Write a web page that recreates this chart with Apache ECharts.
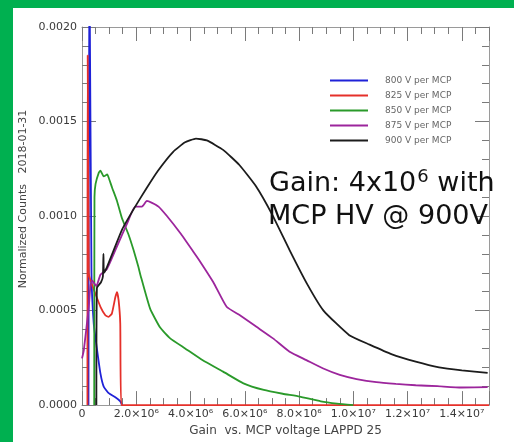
<!DOCTYPE html>
<html><head><meta charset="utf-8">
<script src="https://cdn.jsdelivr.net/npm/echarts@6/dist/echarts.min.js"></script>
<style>html,body{margin:0;padding:0;background:#00B050}#c{width:514px;height:442px}</style>
</head><body><div id="c"></div>
<script>
const seriesNames = ['800 V per MCP', '825 V per MCP', '850 V per MCP', '875 V per MCP', '900 V per MCP'];
const seriesColors = ['#1f22d8', '#e5302a', '#2a9a2a', '#9c259c', '#1c1c1c'];

const gain800   = [0.239e6, 0.268e6, 0.349e6, 0.433e6, 0.558e6, 0.679e6, 0.80e6, 0.983e6, 1.229e6, 1.413e6, 1.475e6];
const counts800 = [0, 0.0025, 0.0007, 0.00043, 0.00029, 0.000168, 0.000098, 0.000063, 0.000042, 0.00002, 0];

const gain825   = [0.20e6, 0.21e6, 0.25e6, 0.31e6, 0.49e6, 0.68e6, 0.86e6, 0.98e6, 1.10e6, 1.23e6, 1.29e6, 1.35e6, 1.41e6, 1.45e6, 15e6];
const counts825 = [0, 0.00185, 0.0007, 0.00066, 0.00059, 0.00052, 0.000475, 0.000467, 0.000484, 0.000572, 0.000598, 0.000554, 0.000432, 0, 0];

const gain850   = [0.45e6, 0.46e6, 0.50e6, 0.62e6, 0.68e6, 0.80e6, 0.93e6, 0.99e6, 1.11e6, 1.29e6, 1.47e6, 1.72e6, 1.90e6, 2.08e6, 2.15e6, 2.51e6, 2.88e6, 3.25e6, 3.80e6, 4.45e6, 5.20e6, 5.95e6, 6.70e6, 7.40e6, 8.02e6, 8.80e6, 9.40e6, 10.0e6];
const counts850 = [0, 0.0011, 0.00117, 0.00123, 0.00124, 0.00121, 0.00122, 0.0012, 0.00115, 0.00108, 0.00099, 0.0009, 0.00082, 0.00073, 0.00069, 0.00051, 0.00041, 0.000353, 0.0003, 0.000237, 0.000177, 0.000115, 0.00008, 0.00006, 0.000045, 0.00002, 0.000008, 0];

const gain875   = [0, 0.066e6, 0.25e6, 0.31e6, 0.37e6, 0.53e6, 0.68e6, 0.92e6, 1.29e6, 1.66e6, 1.96e6, 2.21e6, 2.39e6, 2.58e6, 2.82e6, 3.13e6, 3.62e6, 4.11e6, 4.35e6, 4.84e6, 5.33e6, 5.82e6, 6.43e6, 7.04e6, 7.65e6, 8.27e6, 8.87e6, 9.50e6, 10.12e6, 10.85e6, 11.57e6, 12.30e6, 13.10e6, 13.98e6, 14.95e6];
const counts875 = [0.000247, 0.00029, 0.00052, 0.00063, 0.00066, 0.00063, 0.00069, 0.00072, 0.00084, 0.00096, 0.00105, 0.00105, 0.00108, 0.00107, 0.00105, 0.001, 0.00091, 0.00081, 0.00076, 0.00065, 0.00052, 0.000475, 0.000414, 0.000353, 0.000282, 0.000238, 0.000195, 0.00016, 0.000138, 0.000121, 0.000112, 0.000105, 0.0001, 0.000093, 0.000095];

const gain900   = [0.53e6, 0.55e6, 0.70e6, 0.77e6, 0.79e6, 0.81e6, 0.92e6, 1.17e6, 1.48e6, 1.96e6, 2.39e6, 2.80e6, 3.36e6, 3.80e6, 4.20e6, 4.60e6, 5.20e6, 5.80e6, 6.40e6, 7.00e6, 7.65e6, 8.30e6, 8.90e6, 9.85e6, 10.6e6, 11.4e6, 12.3e6, 13.16e6, 14.0e6, 14.95e6];
const counts900 = [0, 0.00062, 0.00065, 0.00068, 0.0008, 0.0007, 0.00073, 0.00082, 0.00093, 0.00105, 0.00115, 0.00124, 0.00134, 0.00139, 0.00141, 0.0014, 0.00135, 0.00127, 0.00116, 0.00101, 0.00082, 0.00064, 0.0005, 0.00037, 0.00032, 0.00027, 0.00023, 0.0002, 0.000184, 0.00017];

const gains = [gain800, gain825, gain850, gain875, gain900];
const counts = [counts800, counts825, counts850, counts875, counts900];

const xTitle = 'Gain  vs. MCP voltage LAPPD 25';
const yTitle = 'Normalized Counts   2018-01-31';
const noteLine1 = '{n|Gain: 4x10}{s|6}{n| with}';
const noteLine2 = 'MCP HV @ 900V';

const sup = {'0':'\u2070','1':'\u00b9','2':'\u00b2','3':'\u00b3','4':'\u2074','5':'\u2075','6':'\u2076','7':'\u2077','8':'\u2078','9':'\u2079'};
function xLabel(v) {
  const k = v / 2e6;
  if (Math.abs(k - Math.round(k)) > 1e-6) return '';
  if (v === 0) return '0';
  const e = Math.floor(Math.log10(v) + 1e-9);
  const m = v / Math.pow(10, e);
  return m.toFixed(1) + '\u00d710' + String(e).split('').map(c => sup[c]).join('');
}

const font = 'DejaVu Sans';
const axisCol = '#9a9a9a';
const tickCol = '#7a7a7a';
const xBase = {type: 'value', min: 0, max: 1.5e7, splitLine: {show: false}};
const yBase = {type: 'value', min: 0, max: 0.002, interval: 0.0005, splitLine: {show: false}};

const chart = echarts.init(document.getElementById('c'));
chart.setOption({
  backgroundColor: '#00B050',
  animation: false,
  grid: {left: 82, right: 25, top: 27, bottom: 35, containLabel: false},
  graphic: [
    {type: 'rect', z: -100, shape: {x: 13, y: 8, width: 501, height: 434}, style: {fill: '#ffffff'}},
    {type: 'text', z: 100, x: 269, y: 184, style: {text: noteLine1, fill: '#111', align: 'left', verticalAlign: 'middle',
      rich: {n: {fontFamily: font, fontSize: 27, lineHeight: 32, fill: '#111'},
             s: {fontFamily: font, fontSize: 18, lineHeight: 32, fill: '#111', verticalAlign: 'top', padding: [0, 0, 12, 1]}}}},
    {type: 'text', z: 100, x: 268, y: 217, style: {text: noteLine2, font: '27px "DejaVu Sans"', fill: '#111', align: 'left', verticalAlign: 'middle'}},
    {type: 'text', z: 100, x: 23, y: 199, rotation: Math.PI / 2, style: {text: yTitle, font: '11px "DejaVu Sans"', fill: '#444', align: 'center', verticalAlign: 'middle'}}
  ],
  legend: {
    data: seriesNames, orient: 'vertical', left: 325, top: 70, icon: 'rect',
    itemWidth: 38, itemHeight: 2, itemGap: 4, selectedMode: false,
    textStyle: {fontFamily: font, fontSize: 9, color: '#666', lineHeight: 11, padding: [0, 0, 0, 12]}
  },
  xAxis: [
    Object.assign({}, xBase, {position: 'bottom', interval: 5e5,
      axisLine: {show: true, onZero: false, lineStyle: {color: axisCol}},
      axisTick: {inside: true, length: 7, lineStyle: {color: tickCol}},
      axisLabel: {formatter: xLabel, margin: 4, fontSize: 11, fontFamily: font, color: '#3a3a3a'},
      name: xTitle, nameLocation: 'middle', nameGap: 17,
      nameTextStyle: {fontFamily: font, fontSize: 12, color: '#444'}}),
    Object.assign({}, xBase, {position: 'bottom', interval: 2e6,
      axisLine: {show: false, onZero: false}, axisTick: {inside: true, length: 14, lineStyle: {color: tickCol}}, axisLabel: {show: false}}),
    Object.assign({}, xBase, {position: 'top', interval: 5e5,
      axisLine: {show: true, onZero: false, lineStyle: {color: axisCol}}, axisTick: {inside: true, length: 7, lineStyle: {color: tickCol}}, axisLabel: {show: false}}),
    Object.assign({}, xBase, {position: 'top', interval: 2e6,
      axisLine: {show: false, onZero: false}, axisTick: {inside: true, length: 14, lineStyle: {color: tickCol}}, axisLabel: {show: false}})
  ],
  yAxis: [
    Object.assign({}, yBase, {position: 'left',
      axisLine: {show: true, onZero: false, lineStyle: {color: axisCol}},
      axisTick: {inside: true, length: 14, lineStyle: {color: tickCol}},
      minorTick: {show: true, splitNumber: 5, length: 7, lineStyle: {color: tickCol}},
      axisLabel: {formatter: v => v.toFixed(4), margin: 5, fontSize: 11, fontFamily: font, color: '#3a3a3a'}}),
    Object.assign({}, yBase, {position: 'right',
      axisLine: {show: true, onZero: false, lineStyle: {color: axisCol}},
      axisTick: {inside: true, length: 14, lineStyle: {color: tickCol}},
      minorTick: {show: true, splitNumber: 5, length: 7, lineStyle: {color: tickCol}},
      axisLabel: {show: false}})
  ],
  series: seriesNames.map((name, i) => ({
    name: name, type: 'line', xAxisIndex: 0, yAxisIndex: 0,
    data: gains[i].map((g, j) => [g, counts[i][j]]),
    symbol: 'none', clip: true, smooth: 0.15,
    color: seriesColors[i],
    lineStyle: {width: 1.8, color: seriesColors[i]}
  }))
});
</script></body></html>
